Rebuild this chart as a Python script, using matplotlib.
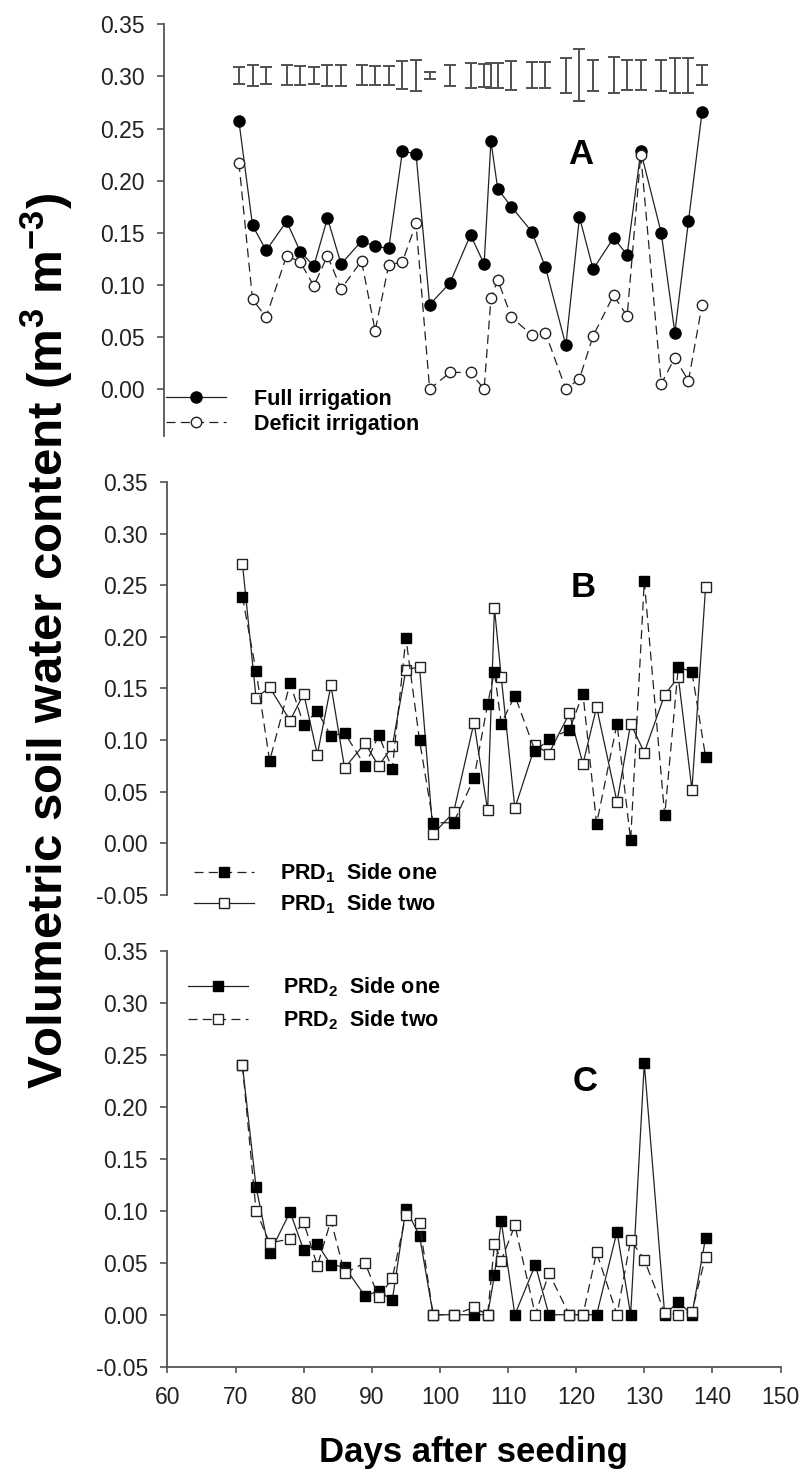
import matplotlib
matplotlib.use('Agg')
import matplotlib.pyplot as plt
from matplotlib.ticker import FuncFormatter

plt.rcParams['font.family'] = ['Liberation Sans', 'DejaVu Sans']
plt.rcParams['mathtext.fontset'] = 'custom'
plt.rcParams['mathtext.rm'] = 'Liberation Sans:bold'
plt.rcParams['mathtext.bf'] = 'Liberation Sans:bold'
plt.rcParams['mathtext.default'] = 'bf'
plt.rcParams['lines.scale_dashes'] = False

# days after seeding (same sampling dates in all three panels)
days = [71, 73, 75, 78, 80, 82, 84, 86, 89, 91, 93, 95, 97, 99, 102, 105,
        107, 108, 109, 111, 114, 116, 119, 121, 123, 126, 128, 130, 133, 135, 137, 139]

# panel A
full_irr = [0.257, 0.157, 0.133, 0.161, 0.132, 0.118, 0.164, 0.120, 0.142, 0.137, 0.135,
            0.228, 0.226, 0.081, 0.102, 0.148, 0.120, 0.238, 0.192, 0.175, 0.151, 0.117,
            0.042, 0.165, 0.115, 0.145, 0.129, 0.228, 0.150, 0.054, 0.161, 0.266]
deficit_irr = [0.217, 0.086, 0.069, 0.128, 0.122, 0.099, 0.128, 0.096, 0.123, 0.056, 0.119,
               0.122, 0.159, 0.000, 0.016, 0.016, 0.000, 0.087, 0.105, 0.069, 0.052, 0.054,
               0.000, 0.010, 0.051, 0.090, 0.070, 0.225, 0.005, 0.030, 0.008, 0.081]
err_center = 0.301
err_half = [0.008, 0.010, 0.0085, 0.0095, 0.009, 0.0085, 0.010, 0.010, 0.0095, 0.009, 0.009,
            0.0135, 0.015, 0.0037, 0.010, 0.0117, 0.011, 0.012, 0.012, 0.014, 0.0124, 0.0124,
            0.017, 0.025, 0.0148, 0.0172, 0.0143, 0.0145, 0.015, 0.017, 0.017, 0.0095]

# panel B
prd1_one = [0.239, 0.167, 0.080, 0.155, 0.115, 0.128, 0.104, 0.107, 0.075, 0.105, 0.072,
            0.199, 0.100, 0.020, 0.020, 0.063, 0.135, 0.166, 0.116, 0.143, 0.089, 0.101,
            0.110, 0.145, 0.019, 0.116, 0.003, 0.254, 0.027, 0.171, 0.166, 0.084]
prd1_two = [0.271, 0.141, 0.151, 0.119, 0.145, 0.086, 0.153, 0.073, 0.097, 0.075, 0.094,
            0.168, 0.171, 0.009, 0.030, 0.117, 0.032, 0.228, 0.161, 0.034, 0.095, 0.087,
            0.126, 0.077, 0.132, 0.040, 0.116, 0.088, 0.144, 0.161, 0.052, 0.248]

# panel C
prd2_one = [0.240, 0.123, 0.059, 0.099, 0.062, 0.068, 0.048, 0.046, 0.018, 0.023, 0.014,
            0.102, 0.076, 0.000, 0.000, 0.000, 0.000, 0.038, 0.090, 0.000, 0.048, 0.000,
            0.000, 0.000, 0.000, 0.080, 0.000, 0.242, 0.000, 0.0125, 0.000, 0.074]
prd2_two = [0.240, 0.100, 0.069, 0.073, 0.089, 0.047, 0.091, 0.040, 0.050, 0.017, 0.035,
            0.096, 0.088, 0.000, 0.000, 0.007, 0.000, 0.068, 0.052, 0.086, 0.000, 0.040,
            0.000, 0.000, 0.060, 0.000, 0.072, 0.053, 0.002, 0.000, 0.003, 0.056]

yticks_A = [0.00, 0.05, 0.10, 0.15, 0.20, 0.25, 0.30, 0.35]
yticks_BC = [-0.05, 0.00, 0.05, 0.10, 0.15, 0.20, 0.25, 0.30, 0.35]
xticks_C = [60, 70, 80, 90, 100, 110, 120, 130, 140, 150]

W, H = 803, 1474
fig = plt.figure(figsize=(W / 100, H / 100), dpi=100)


def px_axes(l, t, r, b):
    return fig.add_axes([l / W, 1 - b / H, (r - l) / W, (b - t) / H])


axA = px_axes(164, 24.3, 777, 436)
axB = px_axes(167.5, 482, 780.5, 895)
axC = px_axes(167.5, 951, 780.5, 1366.7)

axis_col = '#555555'
line_col = '#222222'
dash = (0, (6.5, 3.8))
fmt = FuncFormatter(lambda v, _: f'{v + 0.0:.2f}')

for ax in (axA, axB, axC):
    ax.set_xlim(60, 150)
    ax.spines['top'].set_visible(False)
    ax.spines['right'].set_visible(False)
    ax.spines['left'].set_color(axis_col)
    ax.spines['left'].set_linewidth(1.3)
    ax.tick_params(axis='y', direction='out', length=5, width=1.2, color=axis_col,
                   pad=9, labelsize=16.5, labelcolor='#222222')
    ax.yaxis.set_major_formatter(fmt)
    ax.patch.set_alpha(0)

for ax in (axA, axB):
    ax.spines['bottom'].set_visible(False)
    ax.set_xticks([])

axA.set_ylim(-0.045, 0.35)
axA.set_yticks(yticks_A)
axB.set_ylim(-0.05, 0.35)
axB.set_yticks(yticks_BC)
axC.set_ylim(-0.05, 0.35)
axC.set_yticks(yticks_BC)
axC.set_xticks(xticks_C)
axC.spines['bottom'].set_color(axis_col)
axC.spines['bottom'].set_linewidth(1.3)
axC.tick_params(axis='x', direction='out', length=4, width=1.2, color=axis_col,
                pad=10, labelsize=16.5, labelcolor='#222222')

# --- panel A
axA.errorbar(days, [err_center] * len(days), yerr=err_half, fmt='none',
             ecolor='#505050', elinewidth=1.4, capsize=4.5, capthick=1.4)
hA1, = axA.plot(days, full_irr, color=line_col, lw=0.9, marker='o', ms=8,
                mfc='black', mec='black', label='Full irrigation')
hA2, = axA.plot(days, deficit_irr, color=line_col, lw=0.9, ls=dash, marker='o', ms=7.5,
                mfc='white', mec=line_col, mew=1.0, label='Deficit irrigation')
axA.legend(handles=[hA1, hA2], loc='center left', bbox_to_anchor=(166 / W, 1 - 411.7 / H),
           bbox_transform=fig.transFigure, frameon=False,
           prop={'weight': 'bold', 'size': 15.5}, handlelength=2.8, handletextpad=1.3,
           labelspacing=0.2, borderpad=0, borderaxespad=0)

# --- panel B
hB2, = axB.plot(days, prd1_two, color=line_col, lw=0.9, marker='s', ms=7,
                mfc='white', mec=line_col, mew=1.0, label=r'PRD$_1$  Side two')
hB1, = axB.plot(days, prd1_one, color=line_col, lw=0.9, ls=dash, marker='s', ms=7,
                mfc='black', mec='black', label=r'PRD$_1$  Side one')
axB.legend(handles=[hB1, hB2], loc='center left', bbox_to_anchor=(194 / W, 1 - 888.7 / H),
           bbox_transform=fig.transFigure, frameon=False,
           prop={'weight': 'bold', 'size': 15.5}, handlelength=2.8, handletextpad=1.2,
           labelspacing=0.35, borderpad=0, borderaxespad=0)

# --- panel C
hC1, = axC.plot(days, prd2_one, color=line_col, lw=0.9, marker='s', ms=7,
                mfc='black', mec='black', label=r'PRD$_2$  Side one')
hC2, = axC.plot(days, prd2_two, color=line_col, lw=0.9, ls=dash, marker='s', ms=7,
                mfc='white', mec=line_col, mew=1.0, label=r'PRD$_2$  Side two')
axC.legend(handles=[hC1, hC2], loc='center left', bbox_to_anchor=(188 / W, 1 - 1003.9 / H),
           bbox_transform=fig.transFigure, frameon=False,
           prop={'weight': 'bold', 'size': 15.5}, handlelength=2.8, handletextpad=1.6,
           labelspacing=0.45, borderpad=0, borderaxespad=0)

# panel letters
fig.text(581 / W, 1 - 155 / H, 'A', fontsize=25, fontweight='bold', ha='center', va='center')
fig.text(583.5 / W, 1 - 588 / H, 'B', fontsize=25, fontweight='bold', ha='center', va='center')
fig.text(585.6 / W, 1 - 1081.7 / H, 'C', fontsize=25, fontweight='bold', ha='center', va='center')

fig.text(47 / W, 1 - 641 / H, r'Volumetric soil water content (m$^{3}$ m$^{-3}$)',
         rotation=90, fontsize=35.5, fontweight='bold', ha='center', va='center')
fig.text(473 / W, 12 / H, 'Days after seeding', fontsize=25, fontweight='bold',
         ha='center', va='baseline')

fig.savefig('out.png', dpi=100)
